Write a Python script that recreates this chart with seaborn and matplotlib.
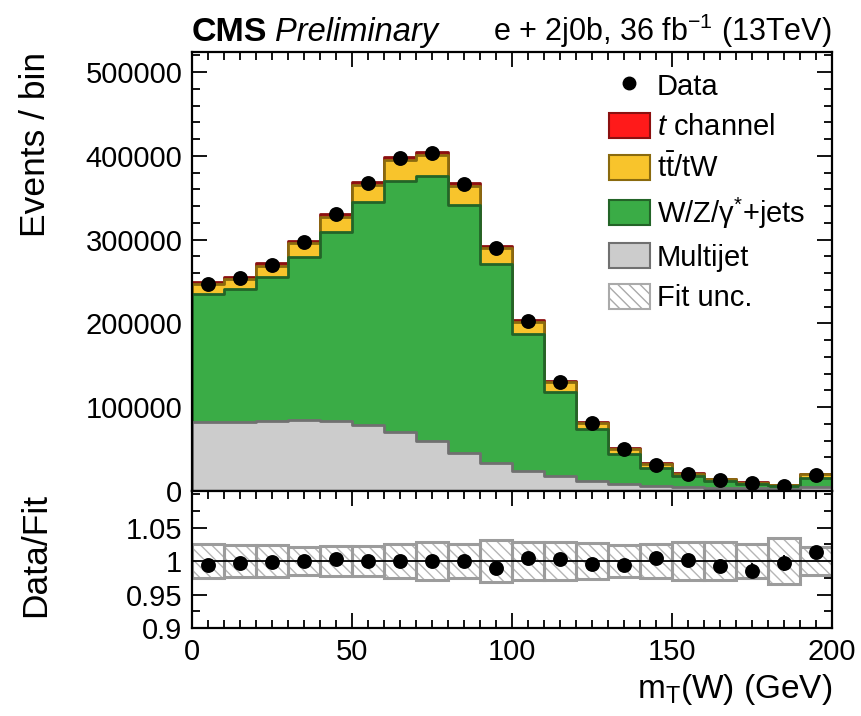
import numpy as np
import pandas as pd
import matplotlib
matplotlib.use("Agg")
import matplotlib.pyplot as plt
import seaborn as sns
from matplotlib.ticker import MultipleLocator, FixedLocator, FuncFormatter
from matplotlib.patches import Patch
from matplotlib.lines import Line2D

# ---------------- data ----------------
bin_edges = [0, 10, 20, 30, 40, 50, 60, 70, 80, 90, 100,
             110, 120, 130, 140, 150, 160, 170, 180, 190, 200]
bin_centers = [5, 15, 25, 35, 45, 55, 65, 75, 85, 95,
               105, 115, 125, 135, 145, 155, 165, 175, 185, 195]

multijet = [82000, 82800, 84000, 84800, 83200, 78800, 70000, 59300, 45400, 33000,
            24300, 18300, 12300, 8400, 6400, 4500, 3800, 3200, 2800, 4500]
wzjets = [153000, 158200, 171000, 195000, 226400, 266700, 300500, 317200, 296100, 238000,
          162700, 100300, 61700, 35800, 20700, 13000, 7700, 5200, 2800, 10600]
ttbar_tw = [11500, 12500, 14000, 16100, 17900, 19900, 24400, 24400, 22700, 19100,
            15300, 11500, 7600, 5900, 5200, 3100, 2400, 1600, 1700, 4700]
t_channel = [2500, 2500, 2800, 3000, 3200, 3500, 3500, 3500, 3200, 2800,
             2300, 1600, 1200, 900, 700, 500, 400, 300, 300, 500]
data = [247200, 254300, 269900, 297700, 330700, 367400, 398000, 403600, 366600, 289800,
        203400, 130500, 80800, 50100, 31400, 20300, 13100, 9100, 6400, 19100]

ratio = [0.994, 0.9975, 0.9985, 1.0005, 1.003, 1.000, 1.0005, 1.0005, 1.0005, 0.990,
         1.0045, 1.003, 0.9955, 0.9945, 1.005, 1.0015, 0.9925, 0.9855, 0.9965, 1.014]
ratio_err = [0.002, 0.002, 0.002, 0.002, 0.002, 0.002, 0.002, 0.002, 0.002, 0.002,
             0.003, 0.003, 0.004, 0.005, 0.006, 0.007, 0.009, 0.011, 0.012, 0.007]
fit_unc = [0.026, 0.024, 0.024, 0.021, 0.023, 0.022, 0.025, 0.028, 0.025, 0.031,
           0.029, 0.029, 0.027, 0.024, 0.025, 0.028, 0.028, 0.026, 0.034, 0.021]

legend_labels = ["Data", "$\\it{t}$ channel", "t$\\bar{\\mathrm{t}}$/tW",
                 "W/Z/γ$^{*}$+jets", "Multijet", "Fit unc."]

# ---------------- style ----------------
sns.set_style("ticks")
plt.rcParams["font.family"] = ["Liberation Sans", "DejaVu Sans"]
plt.rcParams["mathtext.fontset"] = "custom"
plt.rcParams["mathtext.rm"] = "Liberation Sans"
plt.rcParams["mathtext.it"] = "Liberation Sans:italic"
plt.rcParams["mathtext.bf"] = "Liberation Sans:bold"
plt.rcParams["hatch.linewidth"] = 1.0
plt.rcParams["text.color"] = "black"
plt.rcParams["axes.labelcolor"] = "black"
plt.rcParams["xtick.color"] = "black"
plt.rcParams["ytick.color"] = "black"

W, H = 862, 716
fig = plt.figure(figsize=(W / 100, H / 100), dpi=100, facecolor="white")
left, right = 192, 832
top_main, mid, bot = 52, 491, 628
ax1 = fig.add_axes([left / W, 1 - mid / H, (right - left) / W, (mid - top_main) / H])
ax2 = fig.add_axes([left / W, 1 - bot / H, (right - left) / W, (bot - mid) / H], sharex=ax1)

colors = {"t": ("#ff1a1a", "#8b1010"),
          "tt": ("#f8c42c", "#8a6a0e"),
          "wz": ("#3aac46", "#236428"),
          "mj": ("#cccccc", "#707070")}

mj = np.array(multijet, float)
wz = np.array(wzjets, float)
tt = np.array(ttbar_tw, float)
tc = np.array(t_channel, float)

layers = [(mj + wz + tt + tc, colors["t"]),
          (mj + wz + tt, colors["tt"]),
          (mj + wz, colors["wz"]),
          (mj, colors["mj"])]

for vals, (fc, ec) in layers:
    sns.histplot(x=bin_centers, weights=vals, bins=bin_edges, element="step",
                 fill=True, color=fc, facecolor=fc, edgecolor=ec, linewidth=2.0,
                 alpha=1, ax=ax1)

sns.scatterplot(x=bin_centers, y=data, color="black", s=115, edgecolor="black",
                linewidth=0, ax=ax1, zorder=5, legend=False)

ax1.set_xlim(0, 200)
ax1.set_ylim(0, 524000)

# ---------------- ratio ----------------
unc = np.array(fit_unc)
ax2.bar(bin_centers, 2 * unc, bottom=1 - unc, width=10, facecolor="white",
        edgecolor="#b5b5b5", hatch="\\\\\\", linewidth=0, zorder=1)
ax2.bar(bin_centers, 2 * unc, bottom=1 - unc, width=10, fill=False,
        edgecolor="#9c9c9c", linewidth=2.2, zorder=2)
ax2.axhline(1.0, color="black", linewidth=1.3, zorder=3)
ax2.errorbar(bin_centers, ratio, yerr=ratio_err, fmt="none", ecolor="black",
             elinewidth=1.3, zorder=4)
sns.scatterplot(x=bin_centers, y=ratio, color="black", s=115, edgecolor="black",
                linewidth=0, ax=ax2, zorder=5, legend=False)
ax2.set_ylim(0.9, 1.1045)

# ---------------- axes cosmetics ----------------
for ax in (ax1, ax2):
    for sp in ax.spines.values():
        sp.set_linewidth(1.6)
        sp.set_color("black")
        sp.set_visible(True)
    ax.tick_params(which="both", direction="in", top=True, right=True,
                   width=1.3, labelsize=21, pad=7, colors="black")
    ax.tick_params(which="major", length=11)
    ax.tick_params(which="minor", length=6)
    ax.xaxis.set_major_locator(MultipleLocator(50))
    ax.xaxis.set_minor_locator(MultipleLocator(5))

ax1.yaxis.set_major_locator(MultipleLocator(100000))
ax1.yaxis.set_minor_locator(MultipleLocator(20000))
ax1.yaxis.set_major_formatter(FuncFormatter(lambda v, p: f"{int(v)}"))
ax1.tick_params(axis="x", labelbottom=False)

ax2.yaxis.set_major_locator(FixedLocator([0.9, 0.95, 1.0, 1.05]))
ax2.yaxis.set_minor_locator(MultipleLocator(0.025))
ax2.yaxis.set_major_formatter(FuncFormatter(lambda v, p: f"{v:g}"))
ax2.xaxis.set_major_formatter(FuncFormatter(lambda v, p: f"{int(v)}"))

ax1.set_xlabel("")
ax1.set_ylabel("Events / bin", fontsize=25.5, loc="top")
ax1.yaxis.set_label_coords(-0.218, 1.0)
ax2.set_ylabel("Data/Fit", fontsize=25.5)
ax2.yaxis.set_label_coords(-0.218, 0.53)
ax2.set_xlabel("m$_{\\mathrm{T}}$(W) (GeV)", fontsize=24, loc="right")
ax2.xaxis.set_label_coords(1.0, -0.32)

# ---------------- header ----------------
ax1.text(0.0, 1.025, "CMS", transform=ax1.transAxes, fontsize=24.5,
         fontweight="bold", va="baseline", ha="left")
ax1.text(0.13, 1.025, "Preliminary", transform=ax1.transAxes, fontsize=23.5,
         fontstyle="italic", va="baseline", ha="left")
ax1.text(1.0, 1.025, "e + 2j0b, 36 fb$^{-1}$ (13TeV)", transform=ax1.transAxes,
         fontsize=22, va="baseline", ha="right")

# ---------------- legend ----------------
handles = [
    Line2D([], [], marker="o", linestyle="none", color="black", markersize=9),
    Patch(facecolor=colors["t"][0], edgecolor=colors["t"][1], linewidth=1.5),
    Patch(facecolor=colors["tt"][0], edgecolor=colors["tt"][1], linewidth=1.5),
    Patch(facecolor=colors["wz"][0], edgecolor=colors["wz"][1], linewidth=1.5),
    Patch(facecolor=colors["mj"][0], edgecolor=colors["mj"][1], linewidth=1.5),
    Patch(facecolor="white", edgecolor="#aaaaaa", hatch="\\\\\\", linewidth=1.5),
]
ax1.legend(handles, legend_labels, loc="upper left",
           bbox_to_anchor=((609 - left) / (right - left), (mid - 72) / (mid - top_main)),
           frameon=False, fontsize=21, handlelength=1.4, handleheight=0.95,
           handletextpad=0.25, labelspacing=0.42, borderpad=0, borderaxespad=0)

fig.savefig("out.png", dpi=100, facecolor="white")
